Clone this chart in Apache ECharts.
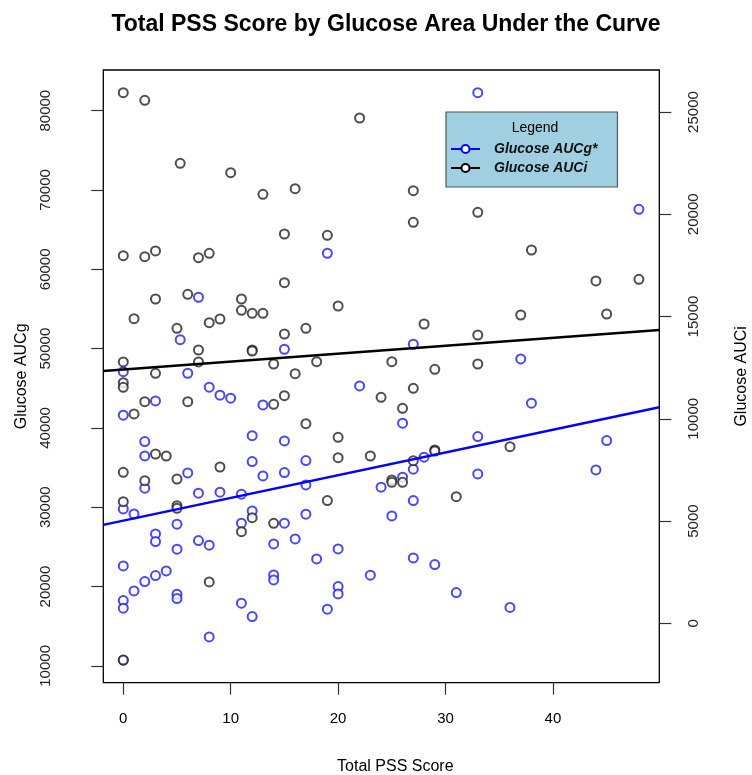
<!DOCTYPE html>
<html>
<head>
<meta charset="utf-8">
<script src="https://cdn.jsdelivr.net/npm/echarts@6/dist/echarts.min.js"></script>
<style>html,body{margin:0;padding:0;background:#fff}#c{width:752px;height:775px}</style>
</head>
<body>
<div id="c"></div>
<script>
// ---- data ----
const pssG = [33,19,48,7,5.3,15,0,6,8,9,10,3,13,0,12,15,2,2,12,6,13,15,2,27,22,26,33,17,28,27,33,17,24,26,27,15,17,25,16,18,20,27,29,23,20,20,19,31,37,38,45,44,36,7,9,11,0,1,5,3,3,5,7,8,11,12,14,0,1,2,3,4,14,14,0,0,5,5,11,12,8,0];
const aucg = [82272,62025,67571,56478,51134,49923,47100,46896,45133,44125,43746,43406,42901,41604,39031,38364,38280,36472,35755,34324,33952,34367,32401,50553,45297,40596,38906,35880,36311,34796,34203,32817,32527,33791,30838,27989,29124,28909,26010,23488,24749,23614,22770,21433,19997,19077,17148,19240,48703,43117,38402,34708,17375,31771,31897,31645,29791,29161,27863,26640,25670,24711,25796,25216,27989,29539,25380,22606,19454,20627,21383,21976,21471,20841,18232,17274,19039,18484,17904,16215,13656,10718];
const pssI = [0,2,5.3,10,13,15,0,2,3,7,8,22,16,27,33,27,19,38,15,3,6,11,1,11,12,13,8,9,5,15,7,12,12,0,7,14,3,0,0,2,6,15,14,1,3,4,9,0,2,5,20,17,28,33,18,25,16,29,33,24,27,26,17,20,20,23,29,29,27,25,25,26,19,31,44,48,37,45,36,0,5,5,11,12,14,8,0];
const auci = [25946,25575,22494,22034,20978,19037,17976,17927,18206,17878,18093,24709,21252,21154,20098,19609,18973,18254,16655,15858,16088,15858,14895,15306,15159,15159,14699,14880,14426,14147,13364,13364,13315,12778,12778,12680,12225,11765,11540,10836,10836,11130,10709,10239,8279,8181,7643,7384,6973,7056,15516,14426,14636,14098,12793,12793,12206,12421,12680,11051,11492,10514,9760,9095,8098,8181,8474,8425,7951,7008,6895,6895,6000,6191,16739,16822,15076,15125,8636,5946,5751,5624,4479,5164,4890,2020,-1800];
// fitted regression lines (intercept, slope)
const fitG = [28307, 286.6];
const fitI = [12409, 38.7];
// tick labels
const xTicks = [0,10,20,30,40];
const leftTicks = [10000,20000,30000,40000,50000,60000,70000,80000];
const rightTicks = [0,5000,10000,15000,20000,25000];
const seriesNames = ['Glucose AUCg*','Glucose AUCi'];

const X_MIN = -1.86, X_MAX = 49.9;
const font = 'Liberation Sans, Arial, Helvetica, sans-serif';
const lineEnds = (f) => [[X_MIN, f[0] + f[1]*X_MIN], [X_MAX, f[0] + f[1]*X_MAX]];
const plain = (v) => String(Math.round(v));

const chart = echarts.init(document.getElementById('c'), null, {renderer:'canvas'});
chart.setOption({
  animation: false,
  backgroundColor: '#fff',
  textStyle: {fontFamily: font},
  title: [
    {text: 'Total PSS Score by Glucose Area Under the Curve', left: 381, top: 8, textAlign: 'center',
     textStyle: {fontFamily: font, fontWeight: 'bold', fontSize: 23, color: '#000'}},
    {text: 'Legend', left: 530, top: 116, textAlign: 'center',
     textStyle: {fontFamily: font, fontWeight: 'normal', fontSize: 14, color: '#000'}}
  ],
  legend: {
    data: seriesNames, orient: 'vertical', left: 446, top: 112,
    backgroundColor: '#9fcfe0', borderColor: '#555', borderWidth: 1.2,
    padding: [30, 20, 12, 4], itemGap: 5, itemWidth: 29, itemHeight: 10,
    textStyle: {fontFamily: font, fontSize: 14, fontWeight: 'bold', fontStyle: 'italic', color: '#111', padding: [0,0,0,9]},
    selectedMode: false
  },
  grid: {left: 103.3, right: 92.7, top: 70, bottom: 92.3, show: true, borderColor: '#000', borderWidth: 1.3, outerBoundsMode: 'none'},
  xAxis: {
    type: 'value', min: X_MIN, max: X_MAX,
    name: 'Total PSS Score', nameLocation: 'middle', nameGap: 76,
    nameTextStyle: {fontFamily: font, fontSize: 16, color: '#000', padding: [0, 0, 0, 28]},
    axisLine: {show: false, onZero: false},
    axisTick: {show: true, length: 12, lineStyle: {color: '#333', width: 1.2}, customValues: xTicks},
    axisLabel: {margin: 29, fontSize: 15, color: '#000', fontFamily: font, customValues: xTicks, formatter: plain},
    splitLine: {show: false}
  },
  yAxis: [
    {type: 'value', position: 'left', min: 7880, max: 85130,
     name: 'Glucose AUCg', nameLocation: 'middle', nameGap: 74,
     nameTextStyle: {fontFamily: font, fontSize: 16, color: '#000'},
     axisLine: {show: false, onZero: false},
     axisTick: {show: true, length: 12, lineStyle: {color: '#333', width: 1.2}, customValues: leftTicks},
     axisLabel: {rotate: 90, margin: 50, fontSize: 15, color: '#222', fontFamily: font, customValues: leftTicks, formatter: plain},
     splitLine: {show: false}},
    {type: 'value', position: 'right', min: -2905, max: 27056,
     name: 'Glucose AUCi', nameLocation: 'middle', nameGap: 74,
     nameTextStyle: {fontFamily: font, fontSize: 16, color: '#000'},
     axisLine: {show: false, onZero: false},
     axisTick: {show: true, length: 12, lineStyle: {color: '#333', width: 1.2}, customValues: rightTicks},
     axisLabel: {rotate: 90, margin: 27, fontSize: 15, color: '#222', fontFamily: font, customValues: rightTicks, formatter: plain},
     splitLine: {show: false}}
  ],
  series: [
    {name: seriesNames[0], type: 'line', yAxisIndex: 0, data: lineEnds(fitG), showSymbol: false,
     symbol: 'emptyCircle', symbolSize: 9, lineStyle: {color: '#0000ff', width: 2.4},
     itemStyle: {color: '#0000ff', borderWidth: 1.3}, z: 3, silent: true},
    {name: seriesNames[1], type: 'line', yAxisIndex: 1, data: lineEnds(fitI), showSymbol: false,
     symbol: 'emptyCircle', symbolSize: 9, lineStyle: {color: '#000', width: 2.4},
     itemStyle: {color: '#000', borderWidth: 1.3}, z: 3, silent: true},
    {name: seriesNames[0], type: 'scatter', yAxisIndex: 0, symbol: 'emptyCircle', symbolSize: 9,
     itemStyle: {color: '#1a1aff', borderColor: '#1a1aff', borderWidth: 1.3},
     data: pssG.map((x, i) => [x, aucg[i]]), z: 2},
    {name: seriesNames[1], type: 'scatter', yAxisIndex: 1, symbol: 'emptyCircle', symbolSize: 9,
     itemStyle: {color: '#222', borderColor: '#222', borderWidth: 1.3},
     data: pssI.map((x, i) => [x, auci[i]]), z: 2}
  ]
});
</script>
</body>
</html>
